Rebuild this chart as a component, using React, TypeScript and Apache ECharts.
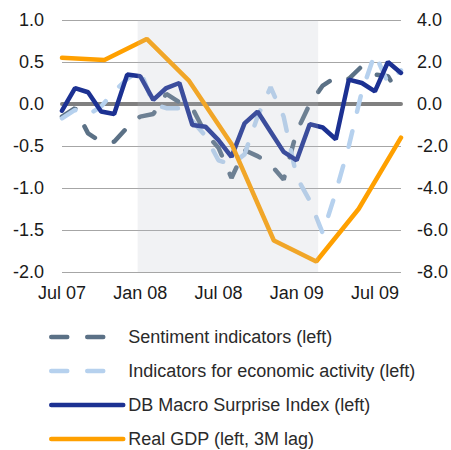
import React, { useEffect, useRef } from "react";
import * as echarts from "echarts";

const months = [
  "Jul 07", "Aug 07", "Sep 07", "Oct 07", "Nov 07", "Dec 07",
  "Jan 08", "Feb 08", "Mar 08", "Apr 08", "May 08", "Jun 08",
  "Jul 08", "Aug 08", "Sep 08", "Oct 08", "Nov 08", "Dec 08",
  "Jan 09", "Feb 09", "Mar 09", "Apr 09", "May 09", "Jun 09",
  "Jul 09", "Aug 09", "Sep 09",
];
const quarters = ["Q2 07", "Q3 07", "Q4 07", "Q1 08", "Q2 08", "Q3 08", "Q4 08", "Q1 09", "Q2 09"];

const sentiment = [
  -0.15, -0.05, -0.35, -0.45, -0.45, -0.28, -0.15, -0.12, 0.12, 0.02,
  -0.05, -0.35, -0.52, -0.88, -0.55, -0.62, -0.72, -0.9, -0.33, 0.0,
  0.22, 0.32, 0.3, 0.45, 0.35, 0.33, 0.08,
];
const activity = [
  -0.17, -0.07, -0.13, -0.03, 0.15, 0.3, 0.4, 0.0, -0.05, -0.05,
  -0.2, -0.38, -0.67, -0.72, -0.6, -0.15, 0.2, -0.15, -0.87, -1.15,
  -1.54, -1.05, -0.5, 0.15, 0.6, 0.25, 0.4,
];
const surprise = [
  -0.08, 0.19, 0.14, -0.09, -0.12, 0.35, 0.33, 0.05, 0.19, 0.25,
  -0.25, -0.27, -0.43, -0.63, -0.23, -0.09, -0.33, -0.57, -0.67, -0.24,
  -0.28, -0.42, 0.29, 0.25, 0.15, 0.5, 0.37,
];
const gdp = [2.2, 2.1, 3.1, 1.1, -1.9, -6.5, -7.5, -5.0, -1.6];

// recession shading, in month index units along the x axis
const recessionBand = [5.8, 19.65];

const FONT = "'Liberation Sans', Arial, sans-serif";
const dash = [16, 20];

export default function App() {
  const ref = useRef<HTMLDivElement>(null);
  useEffect(() => {
    if (!ref.current) return;
    const chart = echarts.init(ref.current, undefined, { renderer: "svg" });
    const pair = (arr: number[]) => arr.map((v, i) => [i, v]);
    chart.setOption({
      animation: false,
      textStyle: { fontFamily: FONT },
      grid: { left: 62, right: 48, top: 20, bottom: 178, containLabel: false },
      legend: {
        orient: "vertical",
        left: 49,
        top: 327,
        padding: 0,
        itemWidth: 72,
        itemHeight: 14,
        itemGap: 14,
        itemStyle: { opacity: 0 },
        lineStyle: { width: 4.5, cap: "round" },
        textStyle: { fontSize: 18, color: "#2a2a2a", fontFamily: FONT, lineHeight: 20 },
        data: [
          "Sentiment indicators (left)",
          "Indicators for economic activity (left)",
          "DB Macro Surprise Index (left)",
          "Real GDP (left, 3M lag)",
        ],
      },
      xAxis: [
        {
          type: "value",
          min: 0,
          max: months.length - 1,
          interval: 6,
          axisLine: { show: true, onZero: true, onZeroAxisIndex: 0, lineStyle: { color: "#808080", width: 4 } },
          axisTick: { show: false },
          splitLine: { show: false },
          axisLabel: {
            formatter: (v: number) => months[v] ?? "",
            fontSize: 18,
            color: "#1a1a1a",
            margin: 12,
            fontFamily: FONT,
          },
        },
        {
          type: "category",
          data: quarters,
          boundaryGap: false,
          show: false,
        },
      ],
      yAxis: [
        {
          type: "value",
          min: -2,
          max: 1,
          interval: 0.5,
          axisLine: { show: false },
          axisTick: { show: false },
          splitLine: { show: true, lineStyle: { color: "#a6a6a6", width: 1 } },
          axisLabel: {
            formatter: (v: number) => v.toFixed(1),
            fontSize: 18,
            color: "#1a1a1a",
            margin: 18,
            fontFamily: FONT,
          },
        },
        {
          type: "value",
          min: -8,
          max: 4,
          interval: 2,
          position: "right",
          axisLine: { show: false },
          axisTick: { show: false },
          splitLine: { show: false },
          axisLabel: {
            formatter: (v: number) => v.toFixed(1),
            fontSize: 18,
            color: "#1a1a1a",
            margin: 16,
            fontFamily: FONT,
          },
        },
      ],
      series: [
        {
          name: "Sentiment indicators (left)",
          type: "line",
          xAxisIndex: 0,
          yAxisIndex: 0,
          data: pair(sentiment),
          symbol: "none",
          lineStyle: { color: "#5b7186", width: 4.5, type: dash, cap: "round" },
          itemStyle: { color: "#5b7186" },
          z: 2,
        },
        {
          name: "Indicators for economic activity (left)",
          type: "line",
          xAxisIndex: 0,
          yAxisIndex: 0,
          data: pair(activity),
          symbol: "none",
          lineStyle: { color: "#b6d1ee", width: 4.5, type: dash, cap: "round" },
          itemStyle: { color: "#b6d1ee" },
          z: 3,
        },
        {
          name: "DB Macro Surprise Index (left)",
          type: "line",
          xAxisIndex: 0,
          yAxisIndex: 0,
          data: pair(surprise),
          symbol: "none",
          lineStyle: { color: "#1c3192", width: 4.5, cap: "round" },
          itemStyle: { color: "#1c3192" },
          z: 4,
        },
        {
          name: "Real GDP (left, 3M lag)",
          type: "line",
          xAxisIndex: 1,
          yAxisIndex: 1,
          data: gdp,
          symbol: "none",
          lineStyle: { color: "#ffa000", width: 4.5, cap: "round" },
          itemStyle: { color: "#ffa000" },
          z: 5,
        },
        {
          name: "recession",
          type: "line",
          xAxisIndex: 0,
          yAxisIndex: 0,
          data: [],
          z: 10,
          silent: true,
          markArea: {
            silent: true,
            z: 10,
            itemStyle: { color: "rgba(185,190,200,0.2)" },
            label: { show: false },
            data: [[{ xAxis: recessionBand[0] }, { xAxis: recessionBand[1] }]],
          },
        },
      ],
    });
    return () => chart.dispose();
  }, []);
  return (
    <div
      ref={ref}
      style={{ position: "fixed", left: 0, top: 0, width: 451, height: 450, background: "#fff" }}
    />
  );
}
